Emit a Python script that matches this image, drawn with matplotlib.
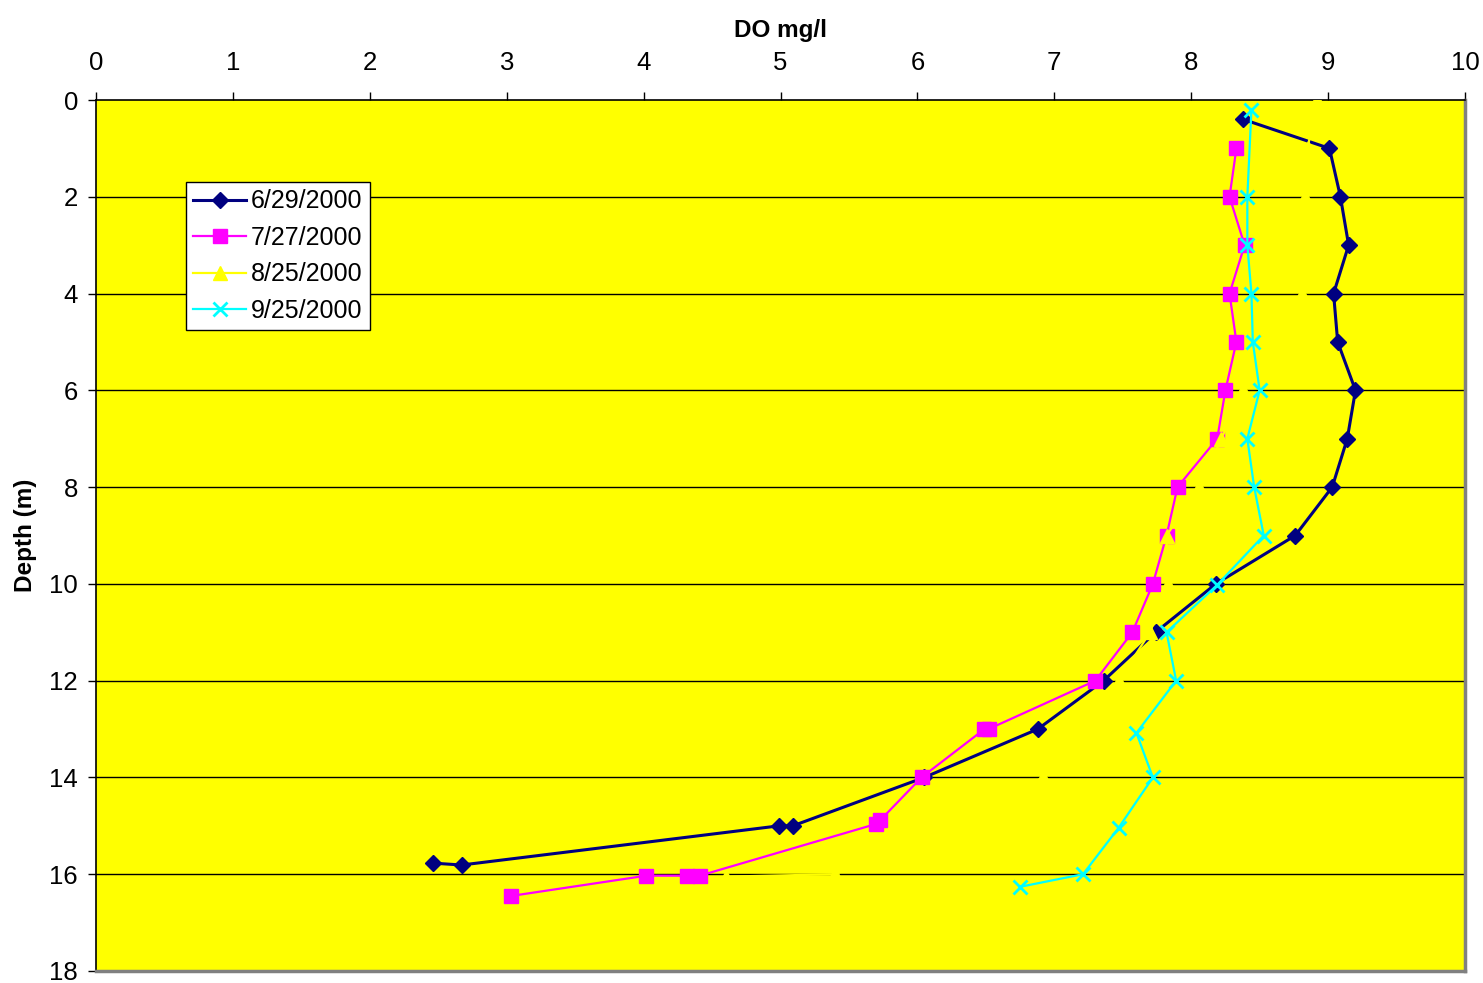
import matplotlib.pyplot as plt

plt.rcParams['font.family'] = ['Liberation Sans', 'DejaVu Sans']

# Dissolved oxygen profiles (DO mg/l vs depth m)
do_0629 = [8.38, 9.01, 9.09, 9.15, 9.04, 9.07, 9.20, 9.14, 9.03, 8.76, 8.18,
           7.74, 7.36, 6.88, 6.05, 5.09, 4.99, 2.67, 2.46]
depth_0629 = [0.4, 1, 2, 3, 4, 5, 6, 7, 8, 9, 10,
              11, 12, 13, 14, 15, 15, 15.81, 15.77]

do_0727 = [8.33, 8.28, 8.39, 8.28, 8.33, 8.25, 8.19, 7.90, 7.82, 7.72, 7.57,
           7.30, 6.52, 6.49, 6.03, 5.73, 5.70, 4.41, 4.32, 4.02, 3.03]
depth_0727 = [1, 2, 3, 4, 5, 6, 7, 8, 9, 10, 11,
              12, 13, 13, 14, 14.88, 14.96, 16.03, 16.03, 16.03, 16.45]

do_0825 = [8.92, 8.85, 8.83, 8.80, 8.81, 8.60, 8.38, 8.22, 8.06, 7.82, 7.83,
           7.70, 7.47, 7.20, 6.92, 6.20, 5.40, 4.60]
depth_0825 = [0, 1, 2, 3, 4, 5, 6, 7, 8, 9, 10,
              11, 12, 13, 14, 15, 16, 16.05]

do_0925 = [8.44, 8.41, 8.41, 8.44, 8.45, 8.50, 8.41, 8.46, 8.53, 8.19, 7.82,
           7.89, 7.60, 7.72, 7.47, 7.21, 6.75]
depth_0925 = [0.2, 2, 3, 4, 5, 6, 7, 8, 9, 10.02, 11,
              12, 13.08, 14, 15.04, 16, 16.26]

x_ticks = list(range(0, 11))
y_ticks = list(range(0, 19, 2))

fig = plt.figure(figsize=(14.83, 9.83), dpi=100)
ax = fig.add_axes([96 / 1483, 1 - 971 / 983, 1369 / 1483, 871 / 983])
ax.set_facecolor('#FFFF00')

ax.plot(do_0629, depth_0629, color='#000080', lw=2.2, marker='D',
        markersize=8, label='6/29/2000', zorder=3)
ax.plot(do_0727, depth_0727, color='#FF00FF', lw=1.6, marker='s',
        markersize=10.5, label='7/27/2000', zorder=4)
ax.plot(do_0825, depth_0825, color='#FFFF00', lw=1.6, marker='^',
        markersize=10, label='8/25/2000', zorder=5)
ax.plot(do_0925, depth_0925, color='#00FFFF', lw=1.6, marker='x',
        markersize=10, markeredgewidth=2, label='9/25/2000', zorder=6)

ax.set_xlim(0, 10)
ax.set_ylim(18, 0)
ax.set_xticks(x_ticks)
ax.set_yticks(y_ticks)

ax.xaxis.tick_top()
ax.xaxis.set_label_position('top')
ax.tick_params(axis='both', direction='out', length=6, width=1,
               labelsize=18.5, colors='black')
ax.tick_params(axis='x', pad=12)
ax.tick_params(axis='y', pad=7)

ax.set_xlabel('DO mg/l', fontsize=17.5, fontweight='bold', labelpad=10)
ax.set_ylabel('Depth (m)', fontsize=17.5, fontweight='bold', labelpad=9)

for d in y_ticks[1:-1]:
    ax.axhline(d, color='black', lw=1, zorder=1)

ax.spines['top'].set_color('black')
ax.spines['left'].set_color('black')
ax.spines['right'].set_color('#808080')
ax.spines['bottom'].set_color('#808080')
ax.spines['right'].set_linewidth(2.5)
ax.spines['bottom'].set_linewidth(2.5)
ax.spines['top'].set_linewidth(1.2)
ax.spines['left'].set_linewidth(1.2)

leg = ax.legend(loc='upper left', bbox_to_anchor=(0.0657, 0.906),
                fontsize=18, frameon=True, fancybox=False, framealpha=1,
                edgecolor='black', handlelength=2.1, handletextpad=0.2,
                labelspacing=0.5, borderpad=0.3, borderaxespad=0)
leg.get_frame().set_linewidth(1)
leg.set_zorder(10)

fig.savefig('out.png', dpi=100)
